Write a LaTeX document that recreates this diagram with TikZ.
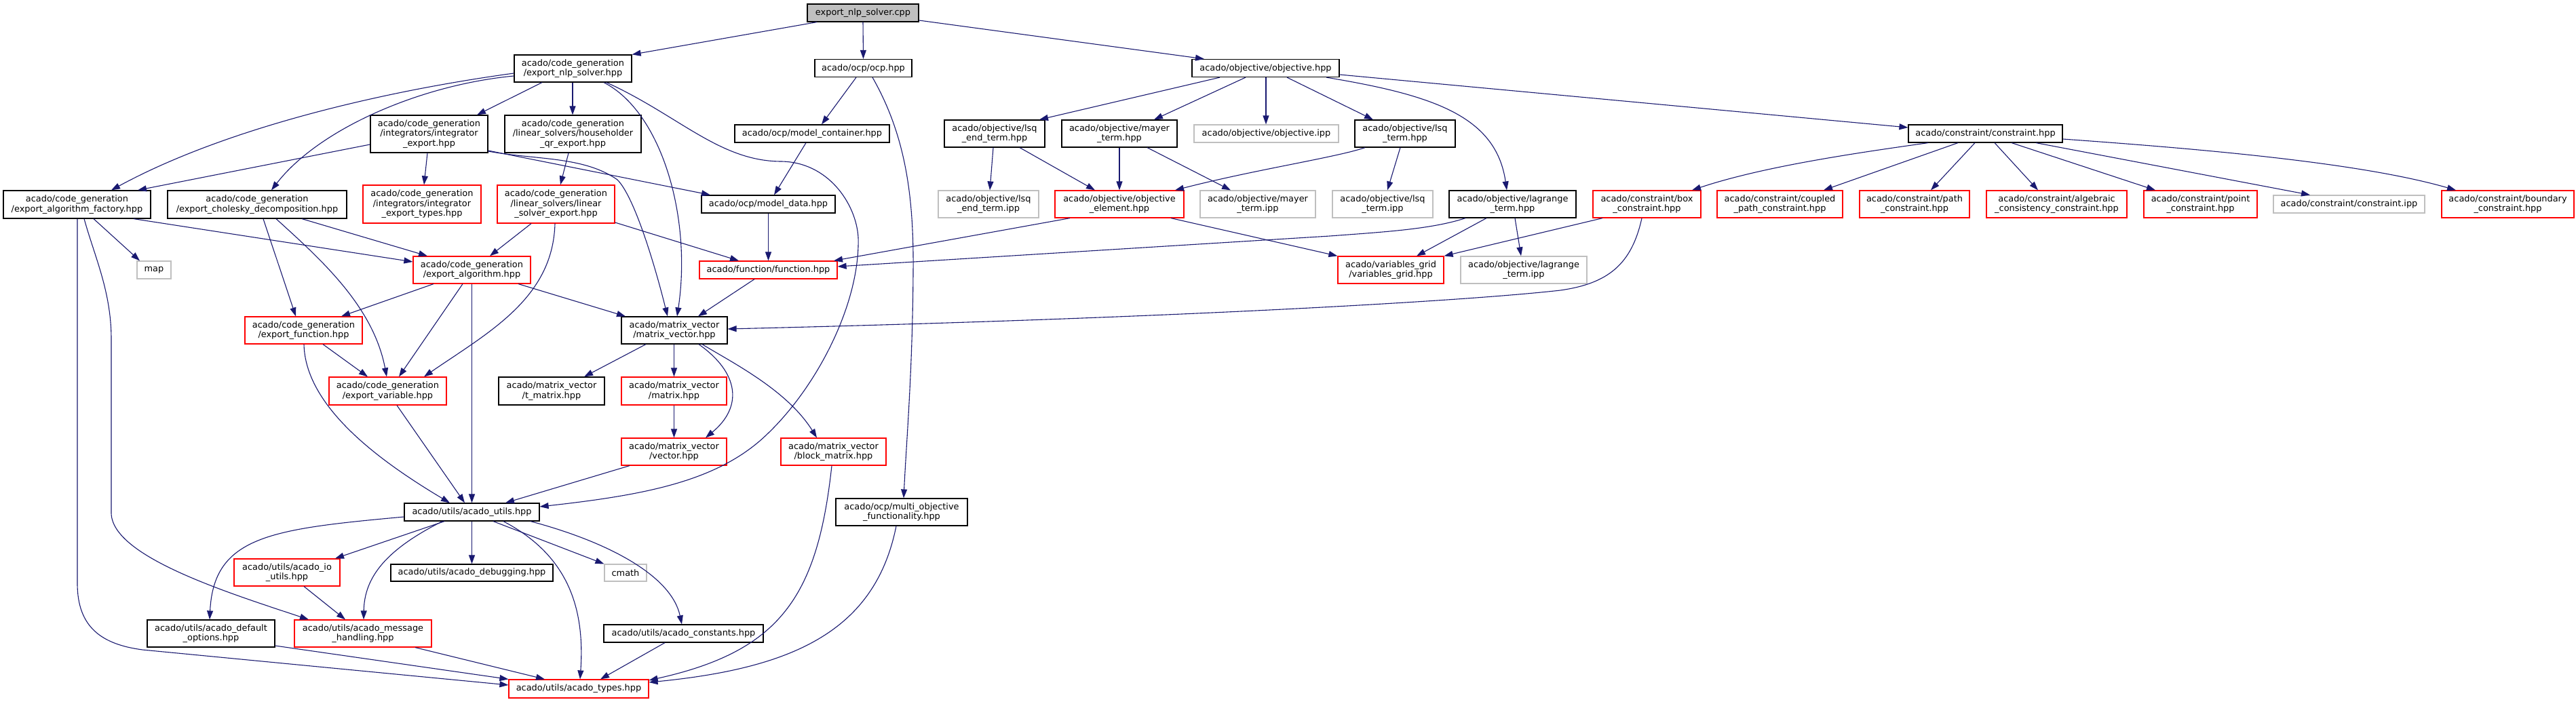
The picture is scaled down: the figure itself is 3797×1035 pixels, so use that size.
\documentclass[tikz,border=0pt]{standalone}
\usepackage{fontspec}
\setmainfont{DejaVu Sans}
\usetikzlibrary{arrows.meta}
\definecolor{edgec}{HTML}{191970}
\definecolor{grc}{HTML}{BFBFBF}
\begin{document}
\begin{tikzpicture}[x=1pt,y=-1pt,
  nb/.style={draw=black,fill=white,line width=1.2pt,inner sep=0pt,align=center,
    font=\fontsize{12.9}{14.5}\selectfont},
  rb/.style={nb,draw=red},
  gb/.style={nb,draw=grc},
  rootb/.style={nb,fill=grc},
  edge/.style={draw=edgec,line width=1.1pt,-{Triangle[length=13pt,width=9pt]}}]
\useasboundingbox (0,0) rectangle (3797,1035);
\fill[white] (0,0) rectangle (3797,1035);
% nodes
\node[rootb,minimum width=164,minimum height=26] (cpp) at (1272,19) {export\_nlp\_solver.cpp};
\node[nb,minimum width=173,minimum height=40] (nlp) at (844.5,101) {acado/code\_generation\\/export\_nlp\_solver.hpp};
\node[nb,minimum width=143,minimum height=26] (ocp) at (1272.5,100.5) {acado/ocp/ocp.hpp};
\node[nb,minimum width=217,minimum height=26] (objective) at (1865.5,100.5) {acado/objective/objective.hpp};
\node[nb,minimum width=173,minimum height=55] (intexp) at (632.5,197.5) {acado/code\_generation\\/integrators/integrator\\\_export.hpp};
\node[nb,minimum width=201,minimum height=55] (hh) at (844.5,197.5) {acado/code\_generation\\/linear\_solvers/householder\\\_qr\_export.hpp};
\node[nb,minimum width=228,minimum height=26] (modcont) at (1197,197) {acado/ocp/model\_container.hpp};
\node[nb,minimum width=148,minimum height=40] (lsqend) at (1466,197) {acado/objective/lsq\\\_end\_term.hpp};
\node[nb,minimum width=170,minimum height=40] (mayer) at (1650,197) {acado/objective/mayer\\\_term.hpp};
\node[gb,minimum width=213,minimum height=26] (objipp) at (1866.5,197) {acado/objective/objective.ipp};
\node[nb,minimum width=148,minimum height=40] (lsqterm) at (2071,197) {acado/objective/lsq\\\_term.hpp};
\node[nb,minimum width=227,minimum height=26] (constraint) at (2926.5,197) {acado/constraint/constraint.hpp};
\node[nb,minimum width=217,minimum height=41] (algfact) at (113.5,301.5) {acado/code\_generation\\/export\_algorithm\_factory.hpp};
\node[nb,minimum width=264,minimum height=41] (chol) at (379,301.5) {acado/code\_generation\\/export\_cholesky\_decomposition.hpp};
\node[rb,minimum width=174,minimum height=56] (inttypes) at (622,301) {acado/code\_generation\\/integrators/integrator\\\_export\_types.hpp};
\node[rb,minimum width=173,minimum height=56] (linsol) at (819.5,301) {acado/code\_generation\\/linear\_solvers/linear\\\_solver\_export.hpp};
\node[nb,minimum width=197,minimum height=26] (moddata) at (1132.5,301) {acado/ocp/model\_data.hpp};
\node[gb,minimum width=148,minimum height=40] (lsqendipp) at (1457,301) {acado/objective/lsq\\\_end\_term.ipp};
\node[rb,minimum width=190,minimum height=40] (objelem) at (1650,301) {acado/objective/objective\\\_element.hpp};
\node[gb,minimum width=170,minimum height=40] (mayeripp) at (1854,301) {acado/objective/mayer\\\_term.ipp};
\node[gb,minimum width=148,minimum height=40] (lsqtermipp) at (2038,301) {acado/objective/lsq\\\_term.ipp};
\node[nb,minimum width=187,minimum height=40] (lagr) at (2229.5,301) {acado/objective/lagrange\\\_term.hpp};
\node[rb,minimum width=159,minimum height=40] (box) at (2427.5,301) {acado/constraint/box\\\_constraint.hpp};
\node[rb,minimum width=185,minimum height=40] (coupled) at (2623.5,301) {acado/constraint/coupled\\\_path\_constraint.hpp};
\node[rb,minimum width=162,minimum height=40] (path) at (2822,301) {acado/constraint/path\\\_constraint.hpp};
\node[rb,minimum width=207,minimum height=40] (algebraic) at (3031.5,301) {acado/constraint/algebraic\\\_consistency\_constraint.hpp};
\node[rb,minimum width=167,minimum height=40] (point) at (3243.5,301) {acado/constraint/point\\\_constraint.hpp};
\node[gb,minimum width=223,minimum height=26] (conipp) at (3462.5,301) {acado/constraint/constraint.ipp};
\node[rb,minimum width=195,minimum height=40] (boundary) at (3696.5,301) {acado/constraint/boundary\\\_constraint.hpp};
\node[rb,minimum width=173,minimum height=40] (expalg) at (695.5,398) {acado/code\_generation\\/export\_algorithm.hpp};
\node[gb,minimum width=50,minimum height=26] (map) at (227,398) {map};
\node[rb,minimum width=203,minimum height=26] (function) at (1132.5,398) {acado/function/function.hpp};
\node[rb,minimum width=156,minimum height=40] (vargrid) at (2050,398) {acado/variables\_grid\\/variables\_grid.hpp};
\node[gb,minimum width=186,minimum height=40] (lagripp) at (2246,398) {acado/objective/lagrange\\\_term.ipp};
\node[rb,minimum width=173,minimum height=40] (expfunc) at (447.5,487) {acado/code\_generation\\/export\_function.hpp};
\node[nb,minimum width=156,minimum height=40] (mv) at (994,487) {acado/matrix\_vector\\/matrix\_vector.hpp};
\node[rb,minimum width=173,minimum height=41] (expvar) at (571.5,576.5) {acado/code\_generation\\/export\_variable.hpp};
\node[nb,minimum width=156,minimum height=41] (tmatrix) at (813,576.5) {acado/matrix\_vector\\/t\_matrix.hpp};
\node[rb,minimum width=155,minimum height=41] (matrix) at (993.5,576.5) {acado/matrix\_vector\\/matrix.hpp};
\node[rb,minimum width=155,minimum height=40] (vector) at (993.5,666) {acado/matrix\_vector\\/vector.hpp};
\node[rb,minimum width=155,minimum height=40] (block) at (1228.5,666) {acado/matrix\_vector\\/block\_matrix.hpp};
\node[nb,minimum width=199,minimum height=26] (utils) at (695.5,755) {acado/utils/acado\_utils.hpp};
\node[nb,minimum width=194,minimum height=40] (multi) at (1329,755) {acado/ocp/multi\_objective\\\_functionality.hpp};
\node[rb,minimum width=156,minimum height=40] (ioutils) at (423,844) {acado/utils/acado\_io\\\_utils.hpp};
\node[nb,minimum width=239,minimum height=25] (debug) at (695.5,844.5) {acado/utils/acado\_debugging.hpp};
\node[gb,minimum width=62,minimum height=25] (cmath) at (922,844.5) {cmath};
\node[nb,minimum width=188,minimum height=40] (defopt) at (311,934) {acado/utils/acado\_default\\\_options.hpp};
\node[rb,minimum width=202,minimum height=40] (msg) at (535,934) {acado/utils/acado\_message\\\_handling.hpp};
\node[nb,minimum width=235,minimum height=26] (const) at (1007.5,934) {acado/utils/acado\_constants.hpp};
\node[rb,minimum width=206,minimum height=27] (types) at (853,1015.5) {acado/utils/acado\_types.hpp};
% edges from root
\draw[edge] (cpp.south -| 1204,0) -- (nlp.north east);
\draw[edge] (cpp.south) -- (ocp.north);
\draw[edge] (cpp.east |- 0,30) -- (objective.north -| 1775,0);
% nlp solver
\draw[edge] (nlp.south -| 799,0) -- (intexp.north -| 703,0);
\draw[edge] (nlp.south -| 844,0) -- (hh.north -| 844,0);
\draw[edge] (nlp.west |- 0,108) .. controls (560,135) and (330,190) .. (algfact.north -| 164,0);
\draw[edge] (nlp.west |- 0,112) .. controls (620,125) and (470,190) .. (chol.north -| 400,0);
\draw[edge] (nlp.south -| 890,0) .. controls (975,165) and (1020,320) .. (mv.north -| 998,0);
\draw[edge] (nlp.south -| 894,0) .. controls (1000,170) and (1060,237) .. (1150,238)
  .. controls (1220,238) and (1262,300) .. (1265,350)
  .. controls (1268,450) and (1200,580) .. (1120,650)
  .. controls (1050,710) and (950,730) .. (utils.east |- 0,747);
% integrator export
\draw[edge] (intexp.west |- 0,213) -- (algfact.north -| 203,0);
\draw[edge] (intexp.south -| 630,0) -- (inttypes.north -| 625,0);
\draw[edge] (intexp.east |- 0,222) -- (moddata.north -| 1047,0);
\draw[edge] (intexp.east |- 0,223) .. controls (790,236) and (860,230) .. (910,265)
  .. controls (935,290) and (965,390) .. (mv.north -| 984,0);
% householder / linear solver
\draw[edge] (hh.south -| 838,0) -- (linsol.north -| 826,0);
\draw[edge] (linsol.south -| 783,0) -- (expalg.north -| 722,0);
\draw[edge] (linsol.south -| 818,0) .. controls (815,440) and (720,490) .. (expvar.north -| 625,0);
\draw[edge] (linsol.east |- 0,328) -- (function.north -| 1089,0);
% ocp
\draw[edge] (ocp.south -| 1262,0) -- (modcont.north -| 1211,0);
\draw[edge] (ocp.south -| 1286,0) .. controls (1335,200) and (1347,290) .. (1346,400)
  .. controls (1345,550) and (1336,650) .. (multi.north -| 1332,0);
\draw[edge] (modcont.south -| 1188,0) -- (moddata.north -| 1141,0);
\draw[edge] (moddata) -- (function);
\draw[edge] (function.south -| 1112,0) -- (mv.north -| 1029,0);
% objective
\draw[edge] (objective.south -| 1798,0) -- (lsqend.north -| 1532,0);
\draw[edge] (objective.south -| 1836,0) -- (mayer.north -| 1701,0);
\draw[edge] (objective.south -| 1866,0) -- (objipp.north -| 1866,0);
\draw[edge] (objective.south -| 1897,0) -- (lsqterm.north -| 2024,0);
\draw[edge] (objective.south -| 1955,0) .. controls (2110,140) and (2205,170) .. (lagr.north -| 2221,0);
\draw[edge] (objective.east |- 0,110) -- (constraint.west |- 0,188);
\draw[edge] (lsqend.south -| 1464,0) -- (lsqendipp.north -| 1459,0);
\draw[edge] (lsqend.south -| 1503,0) -- (objelem.north -| 1614,0);
\draw[edge] (mayer.south -| 1650,0) -- (objelem.north -| 1650,0);
\draw[edge] (mayer.south -| 1691,0) -- (mayeripp.north -| 1814,0);
\draw[edge] (lsqterm.south -| 2012,0) .. controls (1970,232) and (1850,250) .. (objelem.north -| 1732,0);
\draw[edge] (lsqterm.south -| 2064,0) -- (lsqtermipp.north -| 2045,0);
\draw[edge] (objelem.south -| 1577,0) -- (function.north -| 1229,0);
\draw[edge] (objelem.south -| 1726,0) -- (vargrid.north west);
\draw[edge] (lagr.south -| 2160,0) .. controls (2110,338) and (2040,342) .. (1960,348) -- (function.east |- 0,393);
\draw[edge] (lagr.south -| 2191,0) -- (vargrid.north -| 2088,0);
\draw[edge] (lagr.south -| 2233,0) -- (lagripp.north -| 2242,0);
\draw[edge] (box.south -| 2362,0) -- (vargrid.north east);
\draw[edge] (box.south -| 2420,0) .. controls (2405,390) and (2370,418) .. (2300,428)
  .. controls (2150,445) and (1700,470) .. (mv.east |- 0,485);
% constraint
\draw[edge] (constraint.south -| 2842,0) .. controls (2740,225) and (2600,245) .. (box.north -| 2494,0);
\draw[edge] (constraint.south -| 2886,0) -- (coupled.north -| 2688,0);
\draw[edge] (constraint.south -| 2911,0) -- (path.north -| 2846,0);
\draw[edge] (constraint.south -| 2940,0) -- (algebraic.north -| 3004,0);
\draw[edge] (constraint.south -| 2965,0) -- (point.north -| 3177,0);
\draw[edge] (constraint.south -| 3001,0) -- (conipp.north -| 3405,0);
\draw[edge] (constraint.east |- 0,205) .. controls (3250,220) and (3480,240) .. (boundary.north -| 3620,0);
% algorithm factory
\draw[edge] (algfact.south -| 138,0) -- (map.north -| 206,0);
\draw[edge] (algfact.south -| 197,0) -- (expalg.west |- 0,386);
\draw[edge] (algfact.south -| 124,0) .. controls (140,380) and (164,430) .. (164,500) -- (164,757)
  .. controls (166,820) and (330,872) .. (msg.north -| 455,0);
\draw[edge] (algfact.south -| 114,0) -- (114,860) .. controls (114,925) and (150,950) .. (210,958)
  -- (types.west |- 0,1010);
% cholesky
\draw[edge] (chol.south -| 388,0) -- (expfunc.north -| 436,0);
\draw[edge] (chol.south -| 407,0) .. controls (470,380) and (550,450) .. (expvar.north -| 570,0);
\draw[edge] (chol.south -| 445,0) -- (expalg.north -| 630,0);
% export algorithm
\draw[edge] (expalg.south -| 639,0) -- (expfunc.north -| 503,0);
\draw[edge] (expalg.south -| 682,0) -- (expvar.north -| 588,0);
\draw[edge] (expalg.south -| 695.5,0) -- (utils.north -| 695.5,0);
\draw[edge] (expalg.south -| 764,0) -- (mv.north -| 922,0);
% export function / variable
\draw[edge] (expfunc.south -| 476,0) -- (expvar.north -| 542,0);
\draw[edge] (expfunc.south -| 448,0) .. controls (450,600) and (560,680) .. (utils.north -| 663,0);
\draw[edge] (expvar.south -| 585,0) -- (utils.north -| 685,0);
% matrix vector
\draw[edge] (mv.south -| 952,0) -- (tmatrix.north -| 861,0);
\draw[edge] (mv.south -| 993.5,0) -- (matrix.north -| 993.5,0);
\draw[edge] (mv.south -| 1030,0) .. controls (1090,550) and (1095,600) .. (vector.north -| 1040,0);
\draw[edge] (mv.south -| 1035,0) .. controls (1080,535) and (1160,575) .. (block.north -| 1204,0);
\draw[edge] (matrix.south -| 993.5,0) -- (vector.north -| 993.5,0);
\draw[edge] (vector.south -| 928,0) -- (utils.north -| 745,0);
\draw[edge] (block.south -| 1226,0) .. controls (1205,880) and (1150,960) .. (types.east |- 0,1003);
\draw[edge] (multi.south -| 1321,0) .. controls (1290,930) and (1170,985) .. (types.east |- 0,1006);
% utils
\draw[edge] (utils.west |- 0,762) .. controls (400,780) and (315,790) .. (defopt.north -| 309,0);
\draw[edge] (utils.south -| 655,0) -- (ioutils.north -| 494,0);
\draw[edge] (utils.south -| 652,0) .. controls (570,810) and (537,850) .. (msg.north -| 536,0);
\draw[edge] (utils.south -| 695.5,0) -- (debug.north -| 695.5,0);
\draw[edge] (utils.south -| 727,0) -- (cmath.north west);
\draw[edge] (utils.south -| 742,0) .. controls (840,820) and (862,900) .. (types.north -| 855,0);
\draw[edge] (utils.south -| 782,0) .. controls (900,800) and (990,850) .. (const.north -| 1005,0);
\draw[edge] (ioutils.south -| 448,0) -- (msg.north -| 509,0);
\draw[edge] (defopt.east |- 0,952) -- (types.north west);
\draw[edge] (msg.south -| 612,0) -- (types.north -| 803,0);
\draw[edge] (const.south -| 980,0) -- (types.north -| 885,0);
\end{tikzpicture}
\end{document}
